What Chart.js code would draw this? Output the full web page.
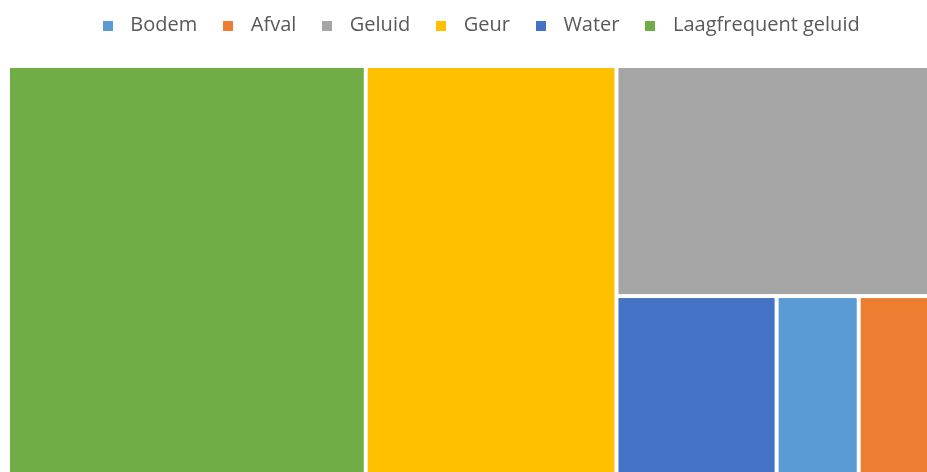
<!DOCTYPE html>
<html>
<head>
<meta charset="utf-8">
<script src="https://cdn.jsdelivr.net/npm/chart.js@4.4.1/dist/chart.umd.min.js"></script>
<style>
    html, body { margin: 0; padding: 0; background: #fff; overflow: hidden; }
    #wrap { width: 955px; height: 498px; }
</style>
</head>
<body>
<div id="wrap"><canvas id="treemapChart" width="955" height="498"></canvas></div>
<script>
// Categories in legend order, with their share (%) and colour
const categories = ['Bodem', 'Afval', 'Geluid', 'Geur', 'Water', 'Laagfrequent geluid'];
const shares = [4.0, 4.3, 19.1, 26.7, 7.8, 38.1];
const colors = ['#5B9BD5', '#ED7D31', '#A5A5A5', '#FFC000', '#4472C4', '#70AD47'];

// How the tiles are grouped: columns first, a nested list flips direction
const tileGroups = ['Laagfrequent geluid', 'Geur', ['Geluid', ['Water', 'Bodem', 'Afval']]];

const total = shares.reduce((s, v) => s + v, 0);
const GAP = 2; // white line between tiles, px per side

function valueOf(node) {
    if (typeof node === 'string') return shares[categories.indexOf(node)];
    return node.reduce((s, n) => s + valueOf(n), 0);
}

// Slice-and-dice layout in data units (x: 0..total, y: 0..100)
function layout(nodes, rect, horizontal, out) {
    const sum = nodes.reduce((s, n) => s + valueOf(n), 0);
    let pos = horizontal ? rect.x0 : rect.y0;
    nodes.forEach(n => {
        const span = (horizontal ? rect.x1 - rect.x0 : rect.y1 - rect.y0) * valueOf(n) / sum;
        const sub = horizontal
            ? { x0: pos, x1: pos + span, y0: rect.y0, y1: rect.y1 }
            : { x0: rect.x0, x1: rect.x1, y0: pos, y1: pos + span };
        pos += span;
        if (typeof n === 'string') {
            out.push({ name: n, ...sub });
        } else {
            layout(n, sub, !horizontal, out);
        }
    });
    return out;
}

// Draw the tiles through the (hidden) linear scales
const treemapPlugin = {
    id: 'treemap',
    beforeDatasetsDraw(chart) {
        const { ctx, scales: { x, y } } = chart;
        const cells = layout(tileGroups, { x0: 0, x1: total, y0: 0, y1: 100 }, true, []);
        ctx.save();
        cells.forEach(c => {
            const i = categories.indexOf(c.name);
            if (!chart.isDatasetVisible(i)) return;
            const left = x.getPixelForValue(c.x0);
            const right = x.getPixelForValue(c.x1);
            const top = y.getPixelForValue(c.y0);
            const bottom = y.getPixelForValue(c.y1);
            ctx.fillStyle = colors[i];
            ctx.fillRect(left + GAP, top + GAP, right - left - 2 * GAP, bottom - top - 2 * GAP);
        });
        ctx.restore();
    }
};

// Extra room under the legend
const legendSpacing = {
    id: 'legendSpacing',
    beforeInit(chart) {
        if (!chart.legend) return;
        const fit = chart.legend.fit;
        chart.legend.fit = function () {
            fit.call(this);
            this.height += 20.5;
        };
    }
};

// Small square legend swatch
function swatch(color) {
    const c = document.createElement('canvas');
    c.width = 10;
    c.height = 10;
    const g = c.getContext('2d');
    g.fillStyle = color;
    g.fillRect(0, 0, 10, 10);
    return c;
}

Chart.defaults.font.family = "'Open Sans', sans-serif";

const ctx = document.getElementById('treemapChart').getContext('2d');
new Chart(ctx, {
    type: 'scatter',
    data: {
        datasets: categories.map((name, i) => ({
            label: name,
            data: [],
            backgroundColor: colors[i],
            borderColor: colors[i]
        }))
    },
    options: {
        responsive: false,
        animation: false,
        layout: { padding: { top: -3, left: 8, right: 8, bottom: 8 } },
        scales: {
            x: { type: 'linear', min: 0, max: total, display: false },
            y: { type: 'linear', min: 0, max: 100, reverse: true, display: false }
        },
        plugins: {
            tooltip: { enabled: false },
            legend: {
                position: 'top',
                labels: {
                    usePointStyle: true,
                    pointStyleWidth: 25,
                    padding: 18.5,
                    color: '#595959',
                    font: { size: 20 },
                    generateLabels: chart => chart.data.datasets.map((ds, i) => ({
                        text: ds.label,
                        fillStyle: ds.backgroundColor,
                        strokeStyle: ds.backgroundColor,
                        lineWidth: 0,
                        pointStyle: swatch(ds.backgroundColor),
                        fontColor: '#595959',
                        hidden: !chart.isDatasetVisible(i),
                        datasetIndex: i
                    }))
                }
            }
        }
    },
    plugins: [treemapPlugin, legendSpacing]
});
</script>
</body>
</html>
